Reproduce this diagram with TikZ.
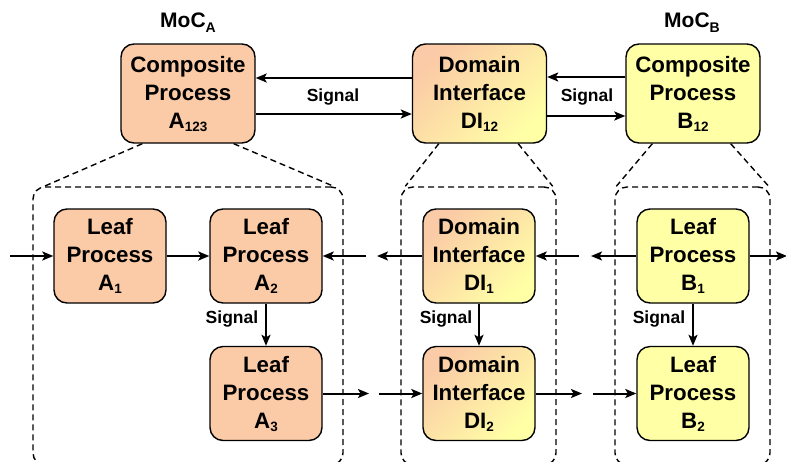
\documentclass[tikz,border=0pt]{standalone}
\usepackage{fontspec}
\setmainfont{Liberation Sans}
\usetikzlibrary{arrows.meta,positioning}
\definecolor{peach}{RGB}{251,202,166}
\definecolor{lyel}{RGB}{255,255,166}
\newcommand{\subx}[1]{\raisebox{-3pt}{\fontsize{13.5}{13.5}\selectfont #1}}
\newcommand{\subm}[1]{\raisebox{-5pt}{\fontsize{14}{14}\selectfont #1}}
\tikzset{
  procbox/.style={draw=black, line width=1.4pt, rounded corners=13pt, align=center,
    font=\fontsize{22.3}{28}\selectfont\bfseries, inner sep=0pt},
  topbox/.style={procbox, minimum width=134pt, minimum height=99pt},
  leafbox/.style={procbox, minimum width=112pt, minimum height=94pt},
  orangefill/.style={fill=peach},
  yellowfill/.style={fill=lyel},
  mixfill/.style={top color=peach, bottom color=lyel, shading angle=45},
  grpbox/.style={draw=black, line width=1.4pt, dash pattern=on 6pt off 4pt, rounded corners=12pt,
    inner sep=0pt},
  dline/.style={draw=black, line width=1.4pt, dash pattern=on 6pt off 4pt},
  arr/.style={draw=black, line width=2pt, -{Stealth[length=11pt,width=9pt,inset=2.5pt]}},
  lbl/.style={font=\fontsize{17.5}{20}\selectfont\bfseries, inner sep=0pt},
  moc/.style={font=\fontsize{21}{24}\selectfont\bfseries, inner sep=0pt, anchor=base},
}
\begin{document}
\begin{tikzpicture}[x=1pt,y=-1pt]
\useasboundingbox (0,0) rectangle (786,461);
\clip (0,0) rectangle (786,461);
\fill[white] (0,0) rectangle (786,461);

% group boxes
\node[grpbox, minimum width=310pt, minimum height=278pt] (gA) at (188,326) {};
\node[grpbox, minimum width=155pt, minimum height=278pt] (gDI) at (478.5,326) {};
\node[grpbox, minimum width=155pt, minimum height=278pt] (gB) at (692.5,326) {};

% MoC labels
\node[moc] (mocA) at (188,27) {MoC\subm{A}};
\node[moc] (mocB) at (692,27) {MoC\subm{B}};

% top nodes
\node[topbox, orangefill] (A123) at (188,93.5) {Composite\\Process\\A\subx{123}};
\node[topbox, mixfill] (DI12) at (479.5,93.5) {Domain\\Interface\\DI\subx{12}};
\node[topbox, yellowfill] (B12) at (693,93.5) {Composite\\Process\\B\subx{12}};

% leaf nodes
\node[leafbox, orangefill] (A1) at (110,256) {Leaf\\Process\\A\subx{1}};
\node[leafbox, orangefill] (A2) at (266,256) {Leaf\\Process\\A\subx{2}};
\node[leafbox, orangefill] (A3) at (266,393.5) {Leaf\\Process\\A\subx{3}};
\node[leafbox, mixfill] (DI1) at (479,256) {Domain\\Interface\\DI\subx{1}};
\node[leafbox, mixfill] (DI2) at (479,393.5) {Domain\\Interface\\DI\subx{2}};
\node[leafbox, yellowfill] (B1) at (693,256) {Leaf\\Process\\B\subx{1}};
\node[leafbox, yellowfill] (B2) at (693,393.5) {Leaf\\Process\\B\subx{2}};

% zoom (dashed) lines
\draw[dline] ([xshift=22pt]A123.south west) -- ([xshift=12pt]gA.north west);
\draw[dline] ([xshift=-22pt]A123.south east) -- ([xshift=-10pt]gA.north east);
\draw[dline] ([xshift=27pt]DI12.south west) -- ([xshift=5pt]gDI.north west);
\draw[dline] ([xshift=-29pt]DI12.south east) -- ([xshift=-4pt]gDI.north east);
\draw[dline] ([xshift=27pt]B12.south west) -- ([xshift=2pt]gB.north west);
\draw[dline] ([xshift=-30pt]B12.south east) -- ([xshift=-2pt]gB.north east);

% top arrows
\draw[arr] ([yshift=15.5pt]DI12.west) -- ([yshift=15.5pt]A123.east);
\draw[arr] ([yshift=-20.5pt]A123.east) -- ([yshift=-20.5pt]DI12.west);
\draw[arr] ([yshift=16.5pt]B12.west) -- ([yshift=16.5pt]DI12.east);
\draw[arr] ([yshift=-22.5pt]DI12.east) -- ([yshift=-22.5pt]B12.west);
\node[lbl] (sigT1) at (333,97) {Signal};
\node[lbl] (sigT2) at (587,97) {Signal};

% free ends
\coordinate (inA1) at (10,256);
\coordinate (c1) at (366,256);
\coordinate (c2) at (377,256);
\coordinate (c3) at (579,256);
\coordinate (c4) at (591,256);
\coordinate (c5) at (787,256);
\coordinate (c6) at (369,393.5);
\coordinate (c7) at (379,393.5);
\coordinate (c8) at (582,393.5);
\coordinate (c9) at (593,393.5);

\draw[arr] (inA1) -- (A1.west);
\draw[arr] (A1) -- (A2);
\draw[arr] (c1) -- (A2.east);
\draw[arr] (DI1.west) -- (c2);
\draw[arr] (c3) -- (DI1.east);
\draw[arr] (B1.west) -- (c4);
\draw[arr] (B1.east) -- (c5);
\draw[arr] (A3.east) -- (c6);
\draw[arr] (c7) -- (DI2.west);
\draw[arr] (DI2.east) -- (c8);
\draw[arr] (c9) -- (B2.west);

% vertical signals
\draw[arr] (A2) -- (A3);
\draw[arr] (DI1) -- (DI2);
\draw[arr] (B1) -- (B2);
\node[lbl] (sig1) at (232,319) {Signal};
\node[lbl] (sig2) at (446,319) {Signal};
\node[lbl] (sig3) at (659,319) {Signal};
\end{tikzpicture}
\end{document}
